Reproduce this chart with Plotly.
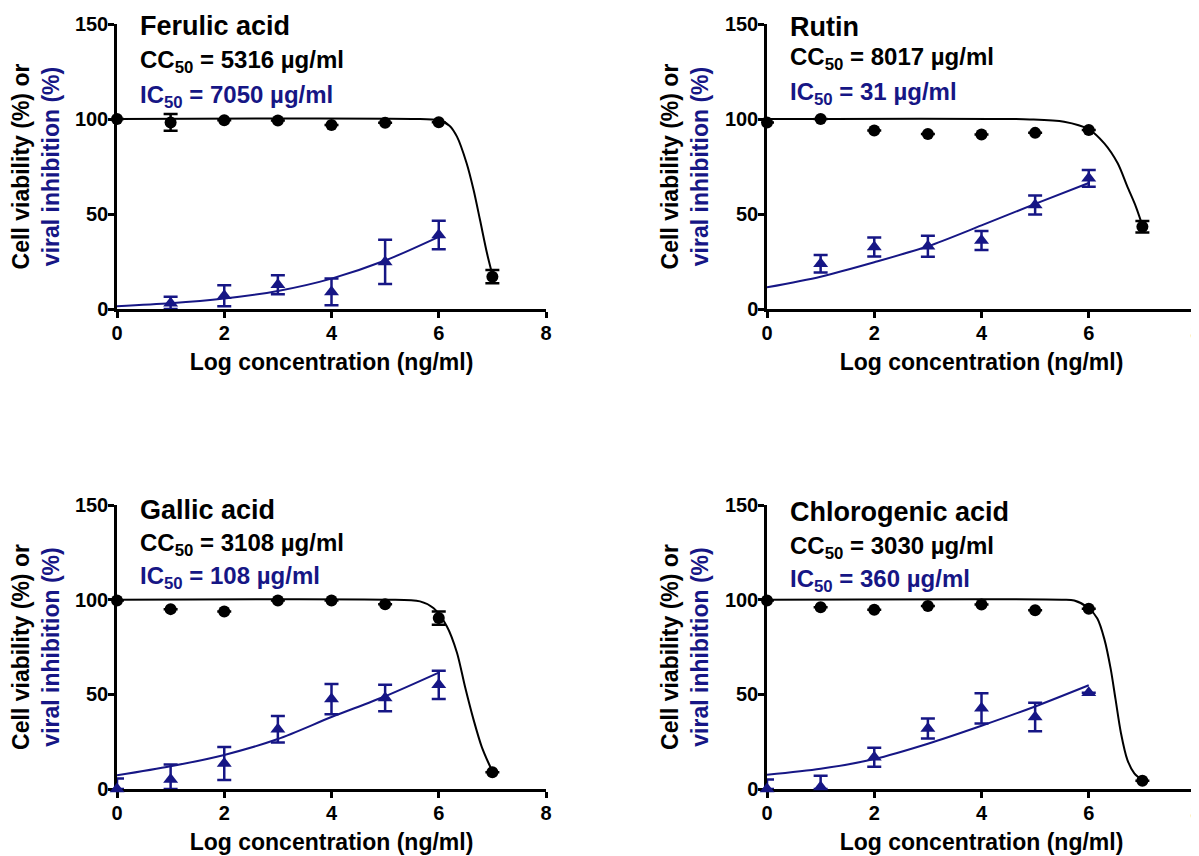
import plotly.graph_objects as go

# ---------------- data ----------------
compounds = ["Ferulic acid", "Rutin", "Gallic acid", "Chlorogenic acid"]
cc50_values = ["5316", "8017", "3108", "3030"]
ic50_values = ["7050", "31", "108", "360"]

x_ticks = [0, 2, 4, 6, 8]
y_ticks = [0, 50, 100, 150]

# cell viability (black circles), log concentration 0..7
viab_x = [0, 1, 2, 3, 4, 5, 6, 7]
ferulic_viab = [100, 98.2, 99.3, 99.2, 96.8, 98.0, 98.3, 17.0]
ferulic_viab_err = [None, 4.4, None, None, None, None, None, 3.5]
rutin_viab = [98.2, 100, 93.9, 92.1, 91.8, 92.7, 94.2, 43.3]
rutin_viab_err = [None, None, None, None, None, None, None, 3.0]
gallic_viab = [99.6, 95.0, 93.7, 99.6, 99.6, 97.6, 90.3, 8.8]
gallic_viab_err = [None, None, None, None, None, None, 3.5, None]
chloro_viab = [99.6, 96.0, 94.7, 96.7, 97.5, 94.4, 95.2, 4.4]
chloro_viab_err = [None, None, None, None, None, None, None, None]

# viral inhibition (blue triangles)
ferulic_inh_x = [1, 2, 3, 4, 5, 6]
ferulic_inh = [3.0, 7.0, 12.8, 9.0, 24.8, 39.0]
ferulic_inh_err = [3.5, 5.5, 5.0, 7.0, 11.6, 7.5]
rutin_inh_x = [1, 2, 3, 4, 5, 6]
rutin_inh = [23.8, 32.6, 33.0, 36.0, 54.7, 68.8]
rutin_inh_err = [4.6, 5.0, 5.5, 5.0, 5.0, 4.4]
gallic_inh_x = [0, 1, 2, 3, 4, 5, 6]
gallic_inh = [0.0, 5.0, 13.5, 31.5, 47.5, 48.0, 55.0]
gallic_inh_err = [5.5, 8.0, 8.7, 7.0, 8.0, 7.0, 7.5]
chloro_inh_x = [0, 1, 2, 3, 4, 5, 6]
chloro_inh = [0.0, 1.0, 16.8, 32.0, 42.6, 38.0, 50.9]
chloro_inh_err = [5.0, 6.0, 5.0, 5.3, 8.0, 7.5, None]

# fitted curves
ferulic_cc_fit_x = [0, 5.5, 6.0, 6.2, 6.34, 6.52, 6.65, 6.77, 6.9, 7.0]
ferulic_cc_fit_y = [100, 100, 99.3, 96.5, 90.7, 76.7, 62.6, 46.8, 29.3, 18.0]
rutin_cc_fit_x = [0, 4.9, 5.54, 6.0, 6.29, 6.54, 6.72, 6.88, 7.0]
rutin_cc_fit_y = [100, 99.8, 98.6, 94.6, 87.2, 76.7, 64.4, 53.8, 44.0]
gallic_cc_fit_x = [0, 5.0, 5.65, 5.9, 6.15, 6.34, 6.49, 6.65, 6.8, 6.93, 7.0]
gallic_cc_fit_y = [100, 100, 99.1, 95.6, 86.0, 72.0, 54.0, 36.5, 22.4, 13.6, 9.5]
chloro_cc_fit_x = [0, 5.5, 5.73, 6.0, 6.16, 6.29, 6.41, 6.5, 6.6, 6.72, 6.85, 7.0]
chloro_cc_fit_y = [100, 100, 99.6, 95.5, 90.0, 79.3, 63.3, 47.3, 29.6, 15.4, 8.3, 4.6]

ic_fit_x = [0, 1, 2, 3, 4, 5, 6]
ferulic_ic_fit_y = [1.5, 3.0, 5.5, 9.5, 16.0, 25.5, 38.0]
rutin_ic_fit_y = [11.4, 17.0, 24.6, 33.0, 44.0, 55.3, 66.3]
gallic_ic_fit_y = [7.2, 12.0, 18.0, 26.4, 38.0, 49.0, 61.5]
chloro_ic_fit_y = [7.5, 10.7, 15.8, 23.9, 33.4, 43.6, 54.8]

# ---------------- styling / layout ----------------
W, H = 1199, 856
OFF = 8  # the page body margin shifts the figure by this many pixels
BLUE = "#161685"
BLACK = "#000000"
FONT = "Liberation Sans"

# panel boxes in screen pixels: (left, right, top, bottom)
boxes = [(117, 546, 24, 309), (767, 1196, 24, 309), (117, 546, 505, 789), (767, 1196, 505, 789)]
# figure-pixel rows for the compound name / CC50 / IC50 texts of each panel
label_rows = [(18, 54, 89), (19, 51, 85), (502, 536, 569), (504, 539, 572)]
label_x = 0.40

panels = [
    (ferulic_viab, ferulic_viab_err, ferulic_inh_x, ferulic_inh, ferulic_inh_err,
     ferulic_cc_fit_x, ferulic_cc_fit_y, ferulic_ic_fit_y),
    (rutin_viab, rutin_viab_err, rutin_inh_x, rutin_inh, rutin_inh_err,
     rutin_cc_fit_x, rutin_cc_fit_y, rutin_ic_fit_y),
    (gallic_viab, gallic_viab_err, gallic_inh_x, gallic_inh, gallic_inh_err,
     gallic_cc_fit_x, gallic_cc_fit_y, gallic_ic_fit_y),
    (chloro_viab, chloro_viab_err, chloro_inh_x, chloro_inh, chloro_inh_err,
     chloro_cc_fit_x, chloro_cc_fit_y, chloro_ic_fit_y),
]

y_title = "Cell viability (%) or<br><span style='color:" + BLUE + "'>viral inhibition (%)</span>"

fig = go.Figure()
annotations = []
layout_axes = {}

for i, (viab, viab_err, inh_x, inh, inh_err, ccx, ccy, icy) in enumerate(panels):
    n = "" if i == 0 else str(i + 1)
    xref, yref = "x" + n, "y" + n

    # fitted curves
    fig.add_trace(go.Scatter(x=ccx, y=ccy, mode="lines", xaxis=xref, yaxis=yref,
                             line=dict(color=BLACK, width=2, shape="spline", smoothing=0.8),
                             showlegend=False, hoverinfo="skip", cliponaxis=False))
    fig.add_trace(go.Scatter(x=ic_fit_x, y=icy, mode="lines", xaxis=xref, yaxis=yref,
                             line=dict(color=BLUE, width=2, shape="spline", smoothing=0.8),
                             showlegend=False, hoverinfo="skip", cliponaxis=False))

    # viability points
    fig.add_trace(go.Scatter(
        x=viab_x, y=viab, mode="markers", xaxis=xref, yaxis=yref,
        marker=dict(symbol="circle", size=12, color=BLACK),
        error_y=dict(type="data", array=viab_err, symmetric=True, color=BLACK,
                     thickness=2.5, width=7),
        showlegend=False, cliponaxis=False, name="Cell viability"))

    # inhibition points (lower bar clipped at the axis)
    minus = [None if e is None else min(e, v) for v, e in zip(inh, inh_err)]
    fig.add_trace(go.Scatter(
        x=inh_x, y=inh, mode="markers", xaxis=xref, yaxis=yref,
        marker=dict(symbol="triangle-up", size=13, color=BLUE),
        error_y=dict(type="data", array=inh_err, arrayminus=minus, symmetric=False,
                     color=BLUE, thickness=2.5, width=7),
        showlegend=False, cliponaxis=False, name="Viral inhibition"))

    l, r, t, b = [v - OFF for v in boxes[i]]
    common = dict(showline=True, linecolor=BLACK, linewidth=2.5, showgrid=False,
                  zeroline=False, ticks="outside", ticklen=6, tickwidth=2.5,
                  tickcolor=BLACK, automargin=False, layer="below traces",
                  ticklabeloverflow="allow",
                  tickfont=dict(family=FONT, size=20, color=BLACK, weight="bold"))
    layout_axes["xaxis" + n] = dict(
        common, domain=[l / W, r / W], range=[0, 8], tickvals=x_ticks,
        anchor=yref, ticklabelstandoff=-2,
        title=dict(text="Log concentration (ng/ml)", standoff=12,
                   font=dict(family=FONT, size=23, color=BLACK, weight="bold")))
    layout_axes["yaxis" + n] = dict(
        common, domain=[1 - b / H, 1 - t / H], range=[0, 150], tickvals=y_ticks,
        anchor=xref, ticklabelstandoff=-4,
        title=dict(text=y_title, standoff=10,
                   font=dict(family=FONT, size=23, color=BLACK, weight="bold")))

    rows = label_rows[i]
    texts = [compounds[i],
             "CC<sub>50</sub> = " + cc50_values[i] + " µg/ml",
             "IC<sub>50</sub> = " + ic50_values[i] + " µg/ml"]
    sizes = [27, 24, 24]
    colors = [BLACK, BLACK, BLUE]
    for txt, row, sz, col in zip(texts, rows, sizes, colors):
        annotations.append(dict(x=label_x, y=1 - row / H, xref=xref, yref="paper",
                                text=txt, showarrow=False, xanchor="left",
                                yanchor="middle",
                                font=dict(family=FONT, size=sz, color=col, weight="bold")))

fig.update_layout(
    width=W, height=H,
    margin=dict(l=0, r=0, t=0, b=0),
    paper_bgcolor="white", plot_bgcolor="white",
    font=dict(family=FONT, color=BLACK),
    annotations=annotations,
    **layout_axes,
)

fig.write_html("out.html")
